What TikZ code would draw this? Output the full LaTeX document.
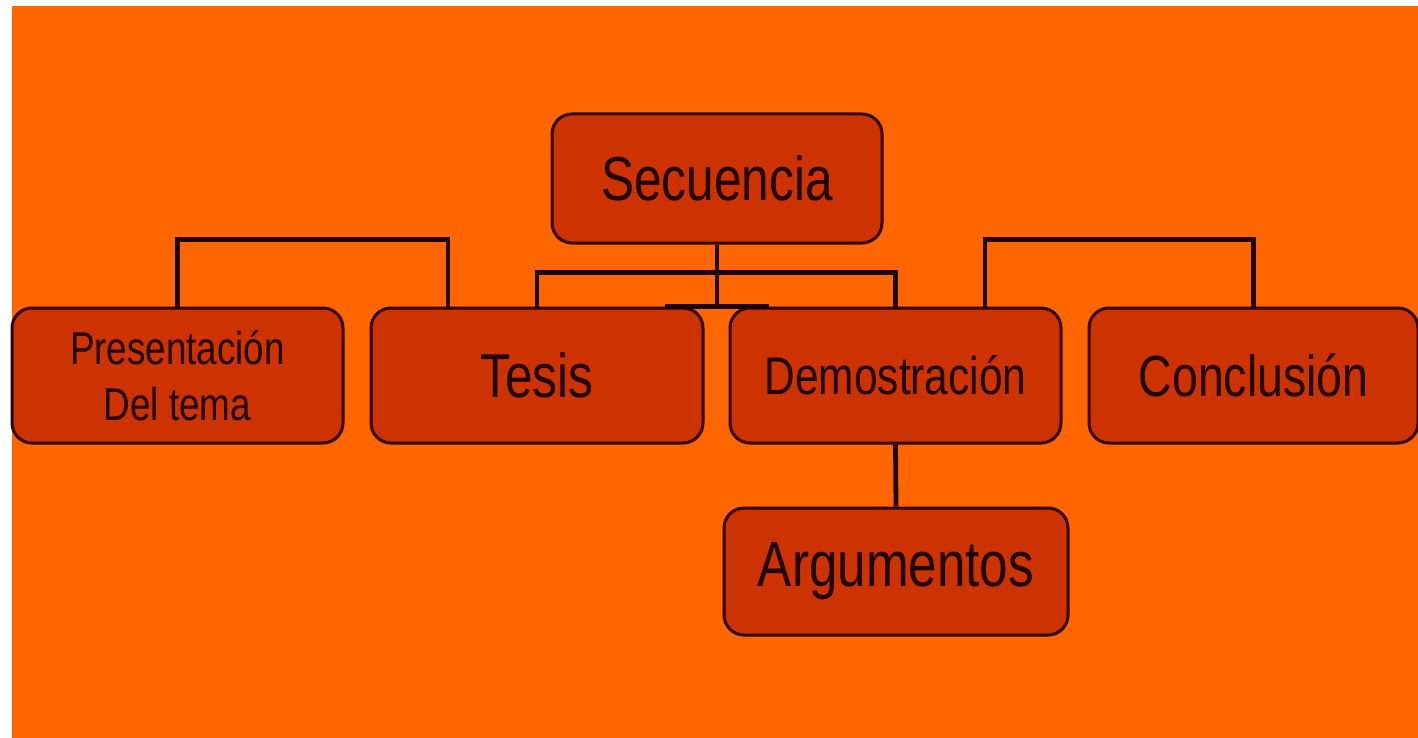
\documentclass[tikz,border=0pt]{standalone}
\usepackage{fontspec}
\setmainfont{Liberation Sans}[FakeStretch=0.8]
\definecolor{bgorange}{RGB}{255,102,0}
\definecolor{boxfill}{RGB}{204,51,0}
\definecolor{boxline}{RGB}{51,0,0}
\definecolor{ink}{RGB}{30,0,0}
\tikzset{
  stage/.style={draw=boxline, line width=1.5pt, fill=boxfill, rounded corners=10pt,
    minimum width=165.5pt, minimum height=67.5pt, inner sep=0pt, text=ink, align=center},
  link/.style={draw=ink, line width=2.4pt}
}
\begin{document}
\begin{tikzpicture}[x=0.5pt, y=0.5pt]
    % Background
    \useasboundingbox (0,0) rectangle (1418,-738);
    \fill[white] (0,0) rectangle (1418,-738);
    \fill[bgorange] (12,-6) rectangle (1418,-738);
    % Boxes
    \node[stage, minimum width=165pt, minimum height=64.5pt, font=\fontsize{31}{36}\selectfont] (sec) at (717,-178.5) {Secuencia};
    \node[stage, font=\fontsize{23}{28}\selectfont] (pres) at (177.5,-375.5) {Presentación\\Del tema};
    \node[stage, minimum width=166pt, font=\fontsize{31}{36}\selectfont] (tesis) at (537,-375.5) {Tesis};
    \node[stage, font=\fontsize{26.5}{30}\selectfont] (demo) at (895.5,-375.5) {Demostración};
    \node[stage, minimum width=164.5pt, font=\fontsize{29}{33}\selectfont] (concl) at (1253.5,-375.5) {Conclusión};
    \node[stage, minimum width=172pt, minimum height=63.5pt, font=\fontsize{32}{36}\selectfont] (arg) at (896,-571.5) {Argumentos};
    % Links
    \draw[link] (pres.north) -- ++(0,67) -| ([xshift=-44.5pt]tesis.north);
    \draw[link] ([xshift=44.75pt]demo.north) -- ++(0,67) -| (concl.north);
    \draw[link] (tesis.north) -- ++(0,34) -| (demo.north);
    \draw[link] (sec.south) -- (sec.south |- tesis.north);
    \draw[link] ([xshift=-20pt]tesis.north east) -- ([xshift=20pt]demo.north west);
    \draw[link] (demo.south) -- (arg.north);
\end{tikzpicture}
\end{document}
